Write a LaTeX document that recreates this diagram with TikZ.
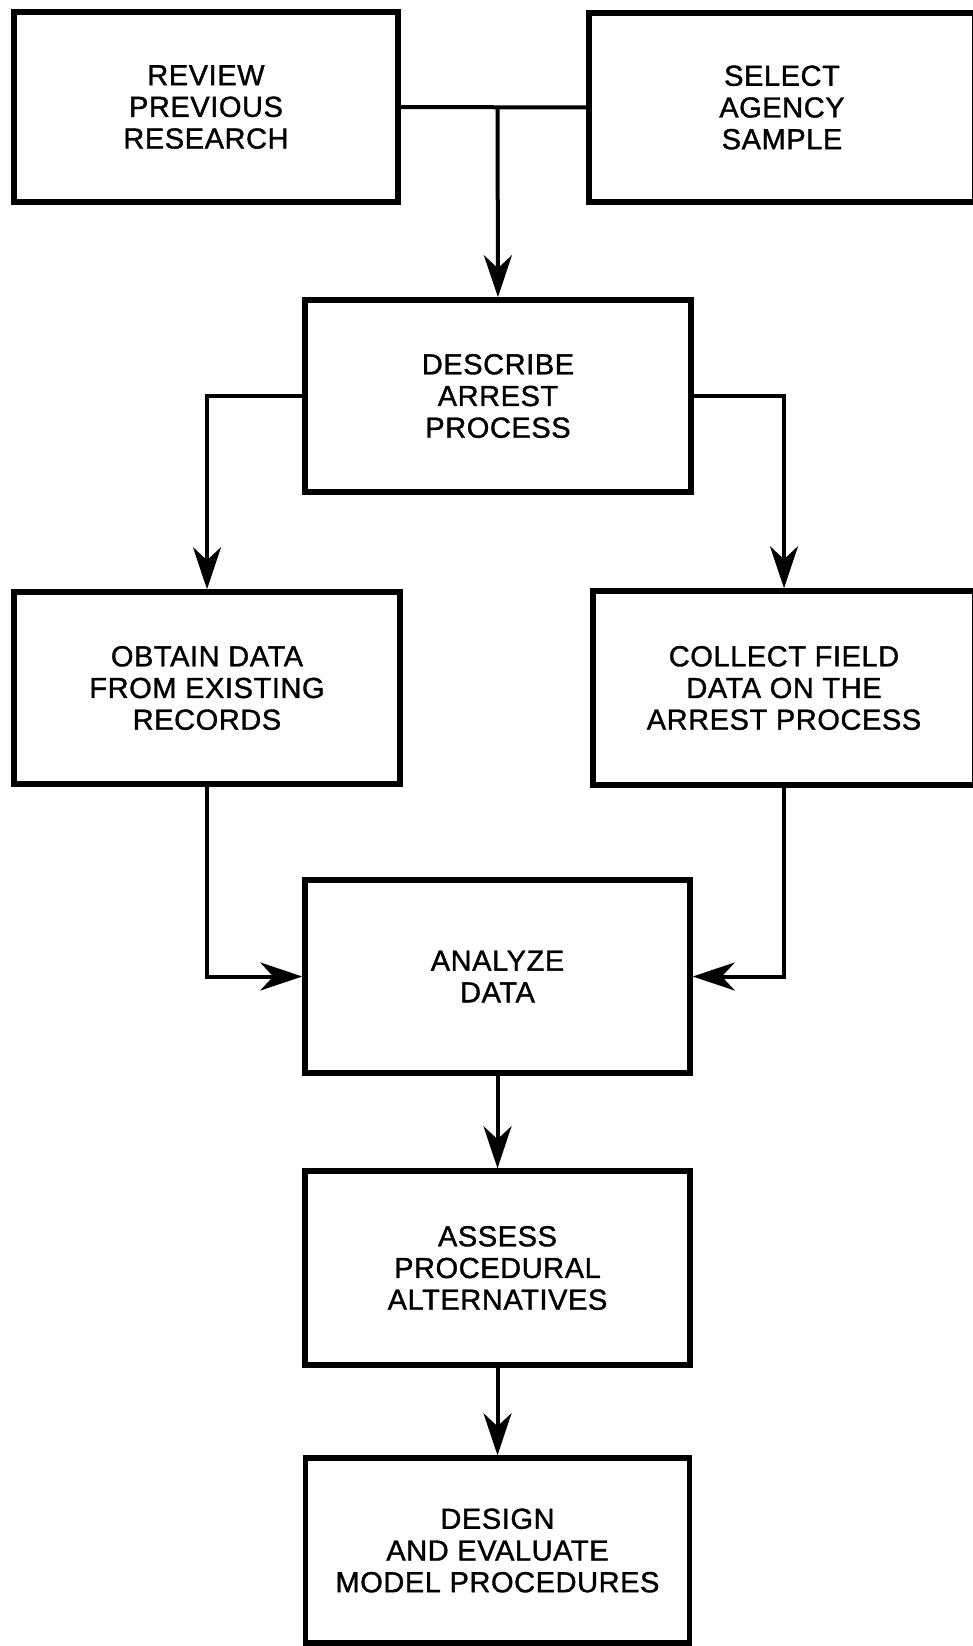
\documentclass[tikz,border=0pt]{standalone}
\usepackage{fontspec}
\setmainfont{Liberation Sans}[LetterSpace=2, FakeBold=1.2]
\usetikzlibrary{arrows.meta}
\begin{document}
\begin{tikzpicture}[x=1pt,y=-1pt,
  box/.style={draw, line width=5.5pt, inner sep=0pt, align=center,
    font=\fontsize{29}{31.7}\selectfont},
  conn/.style={line width=4pt},
  arr/.style={conn, -{Stealth[length=42pt, width=28pt, inset=13pt]}}]
\useasboundingbox (0,0) rectangle (972,1646);
\node[box, minimum width=384pt, minimum height=190pt] (rev) at (206,107) {REVIEW\\PREVIOUS\\RESEARCH};
\node[box, minimum width=386pt, minimum height=189pt] (sel) at (782,107.5) {SELECT\\AGENCY\\SAMPLE};
\node[box, minimum width=386pt, minimum height=192pt] (desc) at (498,396) {DESCRIBE\\ARREST\\PROCESS};
\node[box, minimum width=386pt, minimum height=192pt] (obt) at (207,688) {OBTAIN DATA\\FROM EXISTING\\RECORDS};
\node[box, minimum width=382pt, minimum height=194pt] (col) at (784,688) {COLLECT FIELD\\DATA ON THE\\ARREST PROCESS};
\node[box, minimum width=385pt, minimum height=193pt] (ana) at (497.5,976.5) {ANALYZE\\DATA};
\node[box, minimum width=385pt, minimum height=194pt] (ass) at (497.5,1268) {ASSESS\\PROCEDURAL\\ALTERNATIVES};
\node[box, minimum width=384pt, minimum height=185pt] (des) at (497.5,1550.5) {DESIGN\\AND EVALUATE\\MODEL PROCEDURES};
\coordinate (j) at (497.5,107);
\draw[conn] (rev.east) -- (sel.west);
\draw[arr] (j) -- (desc.north);
\draw[arr] (desc.west) -| (obt.north);
\draw[arr] (desc.east) -| (col.north);
\draw[arr] (obt.south) |- (ana.west);
\draw[arr] (col.south) |- (ana.east);
\draw[arr] (ana.south) -- (ass.north);
\draw[arr] (ass.south) -- (des.north);
\end{tikzpicture}
\end{document}
